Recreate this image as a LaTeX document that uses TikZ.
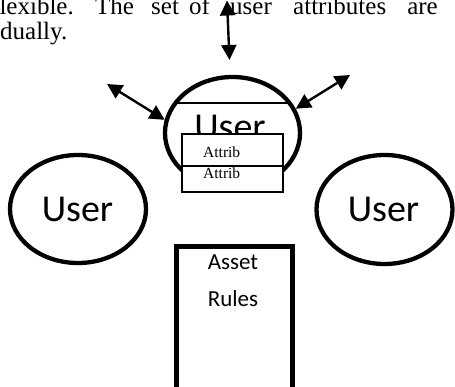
\documentclass[tikz,border=0pt]{standalone}
\usepackage{fontspec}
\setmainfont{Liberation Serif}
\newfontfamily\calib{Carlito}
\usetikzlibrary{shapes.geometric,arrows.meta}
\begin{document}
\begin{tikzpicture}[x=1pt,y=-1pt,
  bigell/.style={draw, ellipse, line width=4.3pt, inner sep=0pt},
  dblarrow/.style={line width=2.4pt, {Triangle[width=15pt,length=15pt]}-{Triangle[width=15pt,length=15pt]}},
  usertxt/.style={font=\calib\fontsize{38}{40}\selectfont, anchor=base, inner sep=0pt},
  assettxt/.style={font=\calib\fontsize{23}{26}\selectfont, anchor=base, inner sep=0pt},
  bodytxt/.style={font=\fontsize{25}{29}\selectfont, inner sep=0pt},
  attrbox/.style={draw, fill=white, line width=1.5pt, minimum width=101pt, inner sep=0pt},
  attrtxt/.style={font=\fontsize{15.5}{17}\selectfont, anchor=base west, inner sep=0pt}
]
\useasboundingbox (0,0) rectangle (455,387);
\clip (0,0) rectangle (455,387);
\fill[white] (0,0) rectangle (455,387);

% body text
\node[bodytxt, anchor=base east] (w1) at (74,15) {flexible.};
\node[bodytxt, anchor=base west] (w2) at (95,15) {The};
\node[bodytxt, anchor=base west] (w3) at (151,15) {set};
\node[bodytxt, anchor=base west] (w4) at (189,15) {of};
\node[bodytxt, anchor=base west] (w5) at (230,15) {user};
\node[bodytxt, anchor=base west] (w6) at (293,15) {attributes};
\node[bodytxt, anchor=base east] (w7) at (438,15) {are};
\node[bodytxt, anchor=base west] (w8) at (0,40) {dually.};

% top user ellipse
\node[bigell, minimum width=135pt, minimum height=112pt] (u1) at (232.5,133) {};
\node[usertxt] (t1) at (230,140) {User};
\draw[line width=1.4pt] (176.5,103) -- (290,103);

% side users
\node[bigell, minimum width=136pt, minimum height=108pt] (u2) at (78,209) {};
\node[usertxt] (t2) at (77.5,222) {User};
\node[bigell, minimum width=136pt, minimum height=109pt] (u3) at (384.5,209.5) {};
\node[usertxt] (t3) at (383.5,222) {User};

% arrows
\coordinate (topend) at (227,0.5);
\coordinate (topbot) at (229.5,60);
\draw[dblarrow] (topend) -- (topbot);
\coordinate (ulend) at (107,84);
\draw[dblarrow] (ulend) -- (u1.169);
\coordinate (urend) at (350,75);
\draw[dblarrow] (urend) -- (u1.21);

% attribute boxes
\node[attrbox, minimum height=32pt] (a1) at (232.5,150) {};
\node[attrbox, minimum height=26pt] (a2) at (232.5,179) {};
\node[attrtxt] (at1) at (203,158) {Attrib};
\node[attrtxt] (at2) at (203,179) {Attrib};

% asset rules box
\node[draw, line width=5pt, minimum width=116pt, minimum height=142pt, inner sep=0pt] (ar) at (234,318) {};
\node[assettxt] (as1) at (233,270) {Asset};
\node[assettxt] (as2) at (233,306) {Rules};
\end{tikzpicture}
\end{document}
